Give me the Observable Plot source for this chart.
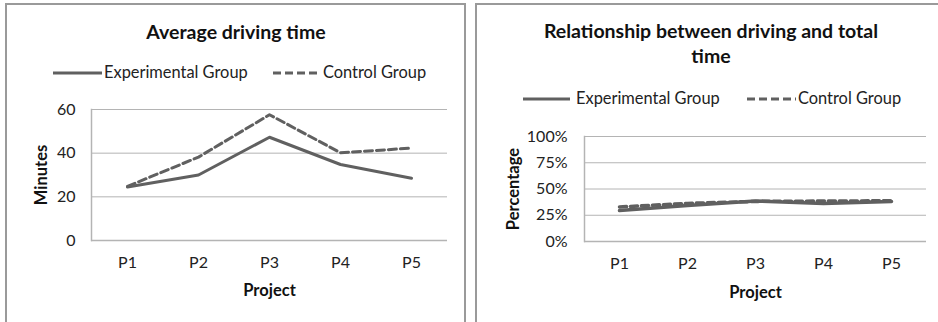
<!DOCTYPE html>
<html>
<head>
<meta charset="utf-8">
<script src="https://cdn.jsdelivr.net/npm/d3@7"></script>
<script src="https://cdn.jsdelivr.net/npm/@observablehq/plot@0.6"></script>
<style>
  html, body { margin: 0; padding: 0; background: #fff; }
  #wrap { position: relative; width: 938px; height: 322px; overflow: hidden; font-family: Lato, "Open Sans", sans-serif; color: #222; }
  .panel { position: absolute; border: 2px solid #9a9a9a; box-sizing: border-box; }
  .title { position: absolute; font-weight: bold; font-size: 19.5px; line-height: 25px; text-align: center; color: #111; }
  .leg { position: absolute; font-size: 16.4px; line-height: 20px; white-space: nowrap; color: #222; }
  svg.sw { position: absolute; overflow: visible; }
</style>
</head>
<body>
<div id="wrap"></div>
<script>
// ---- data ----
const projects = ["P1", "P2", "P3", "P4", "P5"];
const seriesNames = ["Experimental Group", "Control Group"];
const expMinutes = [24.5, 30.0, 47.3, 34.8, 28.5];
const ctrlMinutes = [24.8, 38.2, 57.6, 40.2, 42.3];
const expShare = [0.295, 0.343, 0.385, 0.363, 0.382];
const ctrlShare = [0.329, 0.363, 0.382, 0.385, 0.388];
const minuteTicks = [0, 20, 40, 60];
const shareTicks = [0, 0.25, 0.5, 0.75, 1];
const titles = ["Average driving time", "Relationship between driving and total time"];

const LINE = "#606060";
const GRID = "#b4b4b4";

function rows(vals, name) { return projects.map((p, i) => ({project: p, value: vals[i], series: name})); }

const wrap = document.getElementById("wrap");

function addPanel(left, top, width, height) {
  const d = document.createElement("div");
  d.className = "panel";
  Object.assign(d.style, {left: left + "px", top: top + "px", width: width + "px", height: height + "px"});
  wrap.appendChild(d);
}
function addTitle(text, cx, top, w) {
  const d = document.createElement("div");
  d.className = "title";
  d.style.left = (cx - w / 2) + "px";
  d.style.width = w + "px";
  d.style.top = top + "px";
  d.textContent = text;
  wrap.appendChild(d);
}
function addLegendItem(x1, x2, y, dash, text, tx) {
  const ns = "http://www.w3.org/2000/svg";
  const s = document.createElementNS(ns, "svg");
  s.setAttribute("class", "sw");
  s.setAttribute("width", x2 - x1);
  s.setAttribute("height", 6);
  s.style.left = x1 + "px";
  s.style.top = (y - 3) + "px";
  const l = document.createElementNS(ns, "line");
  l.setAttribute("x1", 0); l.setAttribute("x2", x2 - x1);
  l.setAttribute("y1", 3); l.setAttribute("y2", 3);
  l.setAttribute("stroke", LINE);
  l.setAttribute("stroke-width", 3);
  if (dash) l.setAttribute("stroke-dasharray", dash);
  s.appendChild(l);
  wrap.appendChild(s);
  const t = document.createElement("div");
  t.className = "leg";
  t.style.left = tx + "px";
  t.style.top = (y - 11) + "px";
  t.textContent = text;
  wrap.appendChild(t);
}

function chart({vals, domain, ticks, fmt, ylabel, width, height, mL, mR, mT, mB, ylabDx, xlabDy, sw, dash, tp}) {
  const data = [...rows(vals[0], seriesNames[0]), ...rows(vals[1], seriesNames[1])];
  return Plot.plot({
    width, height,
    marginLeft: mL, marginRight: mR, marginTop: mT, marginBottom: mB,
    style: {fontFamily: "Lato, 'Open Sans', sans-serif", fontSize: "16px", color: "#222", background: "transparent", overflow: "visible"},
    x: {type: "point", domain: projects, padding: 0.5},
    y: {domain, ticks},
    marks: [
      Plot.ruleY(ticks.filter(t => t > domain[0]), {stroke: GRID, strokeWidth: 1}),
      Plot.ruleY([domain[0]], {stroke: GRID, strokeWidth: 1.5}),
      Plot.frame({anchor: "left", stroke: GRID, strokeWidth: 1.5}),
      Plot.axisY({ticks, tickFormat: fmt, tickSize: 0, tickPadding: tp, label: null}),
      Plot.axisX({tickSize: 0, tickPadding: 16, label: null}),
      Plot.text([ylabel], {frameAnchor: "left", dx: ylabDx, rotate: -90, textAnchor: "middle", fontWeight: "bold", fontSize: 16.5, fill: "#111"}),
      Plot.text(["Project"], {frameAnchor: "bottom", dy: xlabDy, textAnchor: "middle", lineAnchor: "middle", fontWeight: "bold", fontSize: 16.5, fill: "#111"}),
      Plot.line(data.filter(d => d.series === seriesNames[0]), {x: "project", y: "value", stroke: LINE, strokeWidth: sw}),
      Plot.line(data.filter(d => d.series === seriesNames[1]), {x: "project", y: "value", stroke: LINE, strokeWidth: sw, strokeDasharray: dash})
    ]
  });
}

// panels
addPanel(5, 3, 461, 340);
addPanel(475, 3, 470, 340);

// left chart
const left = chart({vals: [expMinutes, ctrlMinutes], domain: [0, 60], ticks: minuteTicks, fmt: d => String(d),
  ylabel: "Minutes", width: 470, height: 322, mL: 91, mR: 23, mT: 109, mB: 82, ylabDx: -50, xlabDy: 50, sw: 3, dash: "8,4", tp: 16});
left.style.position = "absolute"; left.style.left = "0px"; left.style.top = "0px";
wrap.appendChild(left);

const right = chart({vals: [expShare, ctrlShare], domain: [0, 1], ticks: shareTicks, fmt: d => Math.round(d * 100) + "%",
  ylabel: "Percentage", width: 468, height: 322, mL: 114, mR: 12, mT: 136, mB: 81, ylabDx: -71, xlabDy: 51, sw: 3.5, dash: "7,4", tp: 17});
right.style.position = "absolute"; right.style.left = "470px"; right.style.top = "0px";
wrap.appendChild(right);

// titles
addTitle(titles[0], 236, 19, 400);
addTitle(titles[1], 711, 18, 370);

// legends
addLegendItem(53, 102, 73, null, seriesNames[0], 104);
addLegendItem(273, 320, 73, "8,4", seriesNames[1], 323);
addLegendItem(523, 570, 99, null, seriesNames[0], 576);
addLegendItem(747, 796, 99, "8,4", seriesNames[1], 798);
</script>
</body>
</html>
